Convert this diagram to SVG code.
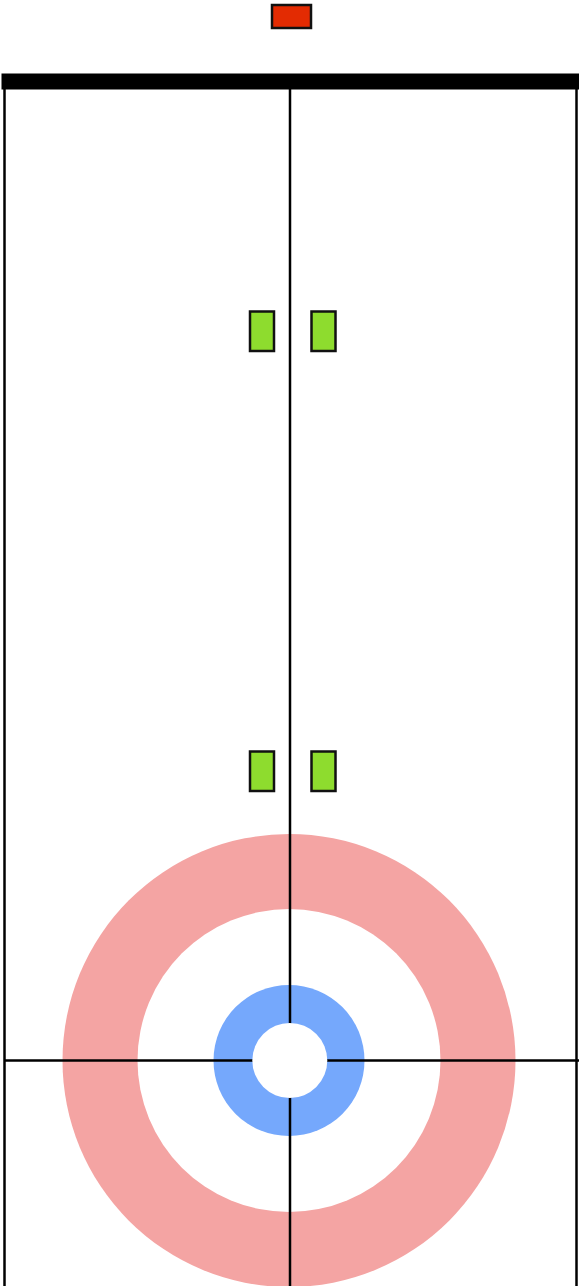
<svg xmlns="http://www.w3.org/2000/svg" width="579" height="1286" viewBox="0 0 579 1286">
<style>
.ln{stroke:#000;stroke-width:2.5;fill:none}
.grn{fill:#8edc2e;stroke:#111;stroke-width:2.5}
</style>
<rect width="579" height="1286" fill="#fff"/>
<g id="house">
<circle cx="289" cy="1060.5" r="226.5" fill="#f4a4a3"/>
<circle cx="289" cy="1060.5" r="151.5" fill="#fff"/>
<circle cx="289" cy="1060.5" r="75.5" fill="#75a8fc"/>
</g>
<g id="lines">
<rect x="1.5" y="73.5" width="577.5" height="16" fill="#000"/>
<line class="ln" x1="4.5" y1="88" x2="4.5" y2="1286"/>
<line class="ln" x1="576.5" y1="88" x2="576.5" y2="1286"/>
<line class="ln" x1="290" y1="88" x2="290" y2="1286"/>
<line class="ln" x1="4.5" y1="1060.5" x2="579" y2="1060.5"/>
</g>
<g id="button">
<circle cx="289.8" cy="1060.5" r="37.5" fill="#fff"/>
</g>
<g id="stone">
<rect x="272" y="5" width="39" height="23" fill="#e32b02" stroke="#111" stroke-width="2.5"/>
</g>
<g id="hog1">
<rect class="grn" x="250" y="311.5" width="24" height="39.5"/>
<rect class="grn" x="311.5" y="311.5" width="24" height="39.5"/>
</g>
<g id="hog2">
<rect class="grn" x="250" y="751.5" width="24" height="39.5"/>
<rect class="grn" x="311.5" y="751.5" width="24" height="39.5"/>
</g>
</svg>
